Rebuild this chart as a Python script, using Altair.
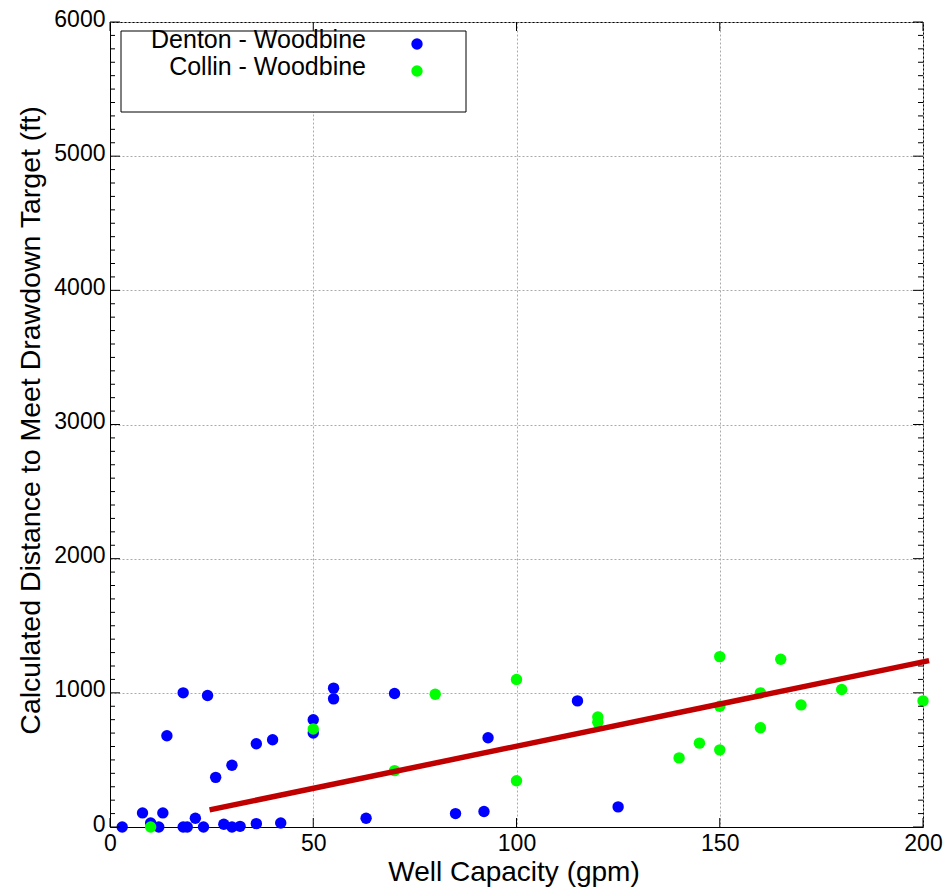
import altair as alt
import pandas as pd

# ---- data ----
denton_x = [3, 8, 10, 12, 13, 14, 18, 18, 19, 21, 23, 24, 26, 28, 30, 30, 32, 36, 36, 40,
            42, 50, 50, 55, 55, 63, 70, 85, 92, 93, 115, 125]
denton_y = [0, 105, 30, 0, 105, 680, 1000, 0, 0, 65, 0, 980, 370, 20, 460, 0, 5, 620, 25, 650,
            30, 800, 700, 1035, 955, 65, 995, 100, 115, 665, 940, 150]

collin_x = [10, 50, 70, 80, 100, 100, 120, 120, 140, 145, 150, 150, 150, 160, 160, 165, 170, 180, 200]
collin_y = [0, 730, 420, 990, 1100, 345, 820, 780, 515, 625, 1270, 900, 575, 1000, 740, 1250, 910, 1025, 940]

fit_x = [24.5, 201.5]
fit_y = [128, 1240]

x_major = [0, 50, 100, 150, 200]
y_major = [0, 1000, 2000, 3000, 4000, 5000, 6000]
y_minor = [v for v in range(0, 6001, 100) if v % 1000 != 0]

series_names = ["Denton - Woodbine", "Collin - Woodbine"]
series_colors = ["#0000ff", "#00ff00"]
line_color = "#c00000"

W, H = 813, 805
FONT = "Liberation Sans"
PT = 130

denton = pd.DataFrame({"x": denton_x, "y": denton_y})
collin = pd.DataFrame({"x": collin_x, "y": collin_y})
fit = pd.DataFrame({"x": fit_x, "y": fit_y})

xs = alt.Scale(domain=[0, 200], nice=False, zero=False)
ys = alt.Scale(domain=[0, 6000], nice=False, zero=False)

x_axis = alt.Axis(title="Well Capacity (gpm)", values=x_major, grid=True, ticks=False,
                  format="d", labelFlush=False, labelOverlap=False, labelPadding=5,
                  titleY=53, titleBaseline="alphabetic", titleX=W / 2 - 3, titleFontSize=28)
y_axis = alt.Axis(title="Calculated Distance to Meet Drawdown Target (ft)", values=y_major,
                  grid=True, ticks=False, format="d", labelFlush=False, labelOverlap=False,
                  labelPadding=5, labelOffset=-3,
                  titleX=-80, titleY=398, titleAngle=-90, titleBaseline="middle",
                  titleAlign="center", titleFontSize=28.5)


def X(f):
    return alt.X(f, scale=xs, axis=x_axis)


def Y(f):
    return alt.Y(f, scale=ys, axis=y_axis)


base_pts = alt.Chart(denton).mark_circle(size=PT, opacity=1, color=series_colors[0]).encode(
    x=X("x:Q"), y=Y("y:Q"))
green_pts = alt.Chart(collin).mark_circle(size=PT, opacity=1, color=series_colors[1]).encode(
    x=X("x:Q"), y=Y("y:Q"))
fit_line = alt.Chart(fit).mark_line(color=line_color, strokeWidth=5.5, clip=False).encode(
    x=X("x:Q"), y=Y("y:Q"))

# inward ticks on all four sides
ymaj = pd.DataFrame({"y": y_major})
ymin = pd.DataFrame({"y": y_minor})
xmaj = pd.DataFrame({"x": x_major})
tk = dict(color="black", strokeWidth=1)
ticks = [
    alt.Chart(ymaj).mark_rule(**tk).encode(y=Y("y:Q"), x=alt.value(0), x2=alt.value(10)),
    alt.Chart(ymaj).mark_rule(**tk).encode(y=Y("y:Q"), x=alt.value(W - 10), x2=alt.value(W)),
    alt.Chart(ymin).mark_rule(**tk).encode(y=Y("y:Q"), x=alt.value(0), x2=alt.value(5)),
    alt.Chart(ymin).mark_rule(**tk).encode(y=Y("y:Q"), x=alt.value(W - 5), x2=alt.value(W)),
    alt.Chart(xmaj).mark_rule(**tk).encode(x=X("x:Q"), y=alt.value(H), y2=alt.value(H - 9)),
    alt.Chart(xmaj).mark_rule(**tk).encode(x=X("x:Q"), y=alt.value(0), y2=alt.value(9)),
]

# legend box
leg = pd.DataFrame({"name": series_names, "color": series_colors})
leg_box = alt.Chart(leg.head(1)).mark_rect(fill="white", stroke="black", strokeWidth=1).encode(
    x=alt.value(11), x2=alt.value(356), y=alt.value(9), y2=alt.value(90))
leg_layers = []
for k, (ty, py) in enumerate([(26, 22), (53, 49)]):
    row = leg.iloc[[k]]
    leg_layers.append(
        alt.Chart(row).mark_text(align="right", baseline="alphabetic", font=FONT,
                                 fontSize=25, color="black").encode(
            text="name:N", x=alt.value(256), y=alt.value(ty)))
    leg_layers.append(
        alt.Chart(row).mark_circle(size=PT, opacity=1).encode(
            color=alt.Color("color:N", scale=None), x=alt.value(307), y=alt.value(py)))

chart = alt.layer(base_pts, green_pts, fit_line, *ticks, leg_box, *leg_layers).properties(
    width=W, height=H,
    autosize=alt.AutoSizeParams(type="none"),
    padding={"left": 110, "top": 22, "right": 28, "bottom": 62},
    background="white",
).configure_view(stroke="black", strokeWidth=1).configure_axis(
    labelFont=FONT, labelFontSize=23, labelColor="black",
    titleFont=FONT, titleFontWeight="normal", titleColor="black",
    domainColor="black", domainWidth=1,
    gridColor="#aaaaaa", gridDash=[2, 2], gridWidth=1,
)

chart.save("out.html", embed_options={"renderer": "svg", "actions": False})
